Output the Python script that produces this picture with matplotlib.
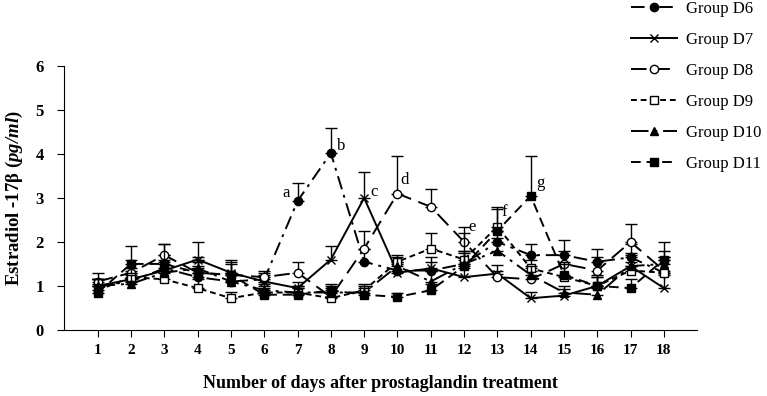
import matplotlib
matplotlib.use("Agg")
import matplotlib.pyplot as plt
from matplotlib.lines import Line2D

plt.rcParams['font.family'] = ['Liberation Serif', 'DejaVu Serif']
plt.rcParams['mathtext.fontset'] = 'custom'
plt.rcParams['mathtext.rm'] = 'Liberation Serif'
plt.rcParams['mathtext.it'] = 'Liberation Serif:italic'
plt.rcParams['mathtext.bf'] = 'Liberation Serif:bold'
plt.rcParams['mathtext.bfit'] = 'Liberation Serif:italic:bold'

days = list(range(1, 19))

d6 = [1.00, 1.10, 1.40, 1.20, 1.10, 1.15, 2.93, 4.02, 1.55, 1.35, 1.35, 1.50, 2.00, 1.70, 1.70, 1.55, 1.65, 1.30]
d6_err = [0.15, 0.20, 0.30, 0.25, 0.20, 0.15, 0.40, 0.58, 0.30, 0.20, 0.20, 0.25, 0.25, 0.25, 0.35, 0.30, 0.30, 0.35]

d7 = [1.00, 1.15, 1.35, 1.60, 1.30, 1.10, 0.95, 1.60, 3.00, 1.30, 1.40, 1.20, 1.28, 0.72, 0.78, 1.00, 1.45, 0.95]
d7_err = [0.15, 0.20, 0.25, 0.40, 0.25, 0.15, 0.15, 0.30, 0.60, 0.20, 0.25, 0.20, 0.20, 0.15, 0.15, 0.20, 0.30, 0.30]

d8 = [1.10, 1.30, 1.70, 1.30, 1.25, 1.20, 1.30, 0.75, 1.85, 3.10, 2.80, 2.00, 1.20, 1.15, 1.50, 1.35, 2.00, 1.35]
d8_err = [0.20, 0.30, 0.25, 0.30, 0.25, 0.15, 0.25, 0.20, 0.40, 0.85, 0.40, 0.35, 0.15, 0.20, 0.30, 0.30, 0.40, 0.30]

d9 = [0.90, 1.20, 1.15, 0.95, 0.72, 0.85, 0.85, 0.72, 0.90, 1.55, 1.85, 1.60, 2.35, 1.40, 1.20, 1.00, 1.35, 1.30]
d9_err = [0.15, 0.20, 0.20, 0.20, 0.15, 0.15, 0.15, 0.15, 0.15, 0.15, 0.35, 0.60, 0.45, 0.20, 0.30, 0.20, 0.20, 0.30]

d10 = [1.00, 1.05, 1.30, 1.40, 1.10, 0.90, 0.85, 0.85, 0.85, 1.45, 1.10, 1.50, 1.80, 1.25, 0.85, 0.80, 1.45, 1.50]
d10_err = [0.15, 0.20, 0.25, 0.25, 0.20, 0.15, 0.15, 0.15, 0.15, 0.20, 0.25, 0.30, 0.30, 0.20, 0.15, 0.15, 0.25, 0.30]

d11 = [0.85, 1.50, 1.50, 1.30, 1.25, 0.80, 0.80, 0.90, 0.80, 0.75, 0.90, 1.45, 2.25, 3.05, 1.25, 1.00, 0.95, 1.60]
d11_err = [0.30, 0.40, 0.45, 0.25, 0.35, 0.15, 0.15, 0.15, 0.15, 0.10, 0.15, 0.35, 0.50, 0.90, 0.30, 0.25, 0.20, 0.40]

series = [
    ("Group D6", d6, d6_err, 'o', 'k', (0, (7, 3, 1.5, 3))),
    ("Group D7", d7, d7_err, 'x', 'k', '-'),
    ("Group D8", d8, d8_err, 'o', 'white', (0, (8, 4))),
    ("Group D9", d9, d9_err, 's', 'white', (0, (3, 2))),
    ("Group D10", d10, d10_err, '^', 'k', (0, (9, 3, 1.5, 3))),
    ("Group D11", d11, d11_err, 's', 'k', (0, (5, 3))),
]

fig = plt.figure(figsize=(7.67, 3.96), dpi=100)
ax = fig.add_axes([0.084, 0.167, 0.825, 0.666])

handles = []
for name, vals, errs, mk, fc, ls in series:
    ax.errorbar(days, vals, yerr=[[0] * len(errs), errs], color='k',
                elinewidth=1.0, capsize=4, capthick=1.0, linestyle='none')
    ax.plot(days, vals, color='k', linestyle=ls, linewidth=1.4,
            marker=mk, markersize=6, markerfacecolor=fc,
            markeredgecolor='k', markeredgewidth=1.0)
    handles.append(Line2D([0], [0], color='k', linestyle=ls, linewidth=1.4,
                          marker=mk, markersize=6, markerfacecolor=fc,
                          markeredgecolor='k', markeredgewidth=1.0))

# letters next to the peaks
ax.text(6.65, 3.11, 'a', fontsize=12, ha='center', va='center')
ax.text(8.3, 4.18, 'b', fontsize=12, ha='center', va='center')
ax.text(9.3, 3.14, 'c', fontsize=12, ha='center', va='center')
ax.text(10.2, 3.41, 'd', fontsize=12, ha='center', va='center')
ax.text(12.25, 2.35, 'e', fontsize=12, ha='center', va='center')
ax.text(13.2, 2.69, 'f', fontsize=12, ha='center', va='center')
ax.text(14.28, 3.34, 'g', fontsize=12, ha='center', va='center')

ax.set_xlim(0, 19)
ax.set_ylim(0, 6)
ax.set_xticks(days)
ax.set_xticklabels([str(d) for d in days], fontweight='bold', fontsize=11)
ax.set_yticks(range(0, 7))
ax.set_yticklabels([str(v) for v in range(0, 7)], fontweight='bold', fontsize=12)
ax.tick_params(axis='x', direction='out', length=5, pad=5)
ax.tick_params(axis='y', direction='out', length=5, pad=10)
ax.spines['top'].set_visible(False)
ax.spines['right'].set_visible(False)

ax.set_xlabel('Number of days after prostaglandin treatment', fontsize=13,
              fontweight='bold', labelpad=13)
ax.set_ylabel(r'Estradiol -17β ($\mathbfit{pg/ml}$)', fontsize=13.5,
              fontweight='bold')
ax.yaxis.set_label_coords(-0.062, 0.5)

fig.legend(handles, [s[0] for s in series], loc='upper right',
           bbox_to_anchor=(1.012, 1.035), frameon=False, fontsize=12,
           handlelength=2.8, labelspacing=0.9, handletextpad=0.5)

fig.savefig('out.png', dpi=100)
